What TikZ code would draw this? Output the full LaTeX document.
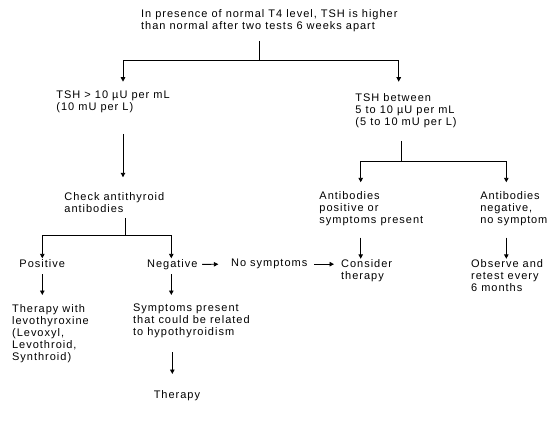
\documentclass[tikz,border=0pt]{standalone}
\usepackage{fontspec}
\setmainfont{Liberation Sans}[LetterSpace=9]
\usetikzlibrary{arrows.meta}

\begin{document}
\begin{tikzpicture}[x=1pt, y=-1pt, line width=0.9pt,
      >={Triangle[length=4.5pt,width=4.5pt]},
      txt/.style={anchor=north west, inner sep=0pt, align=left,
        font=\fontsize{11}{12}\selectfont}]
      \useasboundingbox (0, 0) rectangle (548, 420);
      \node[txt] (top) at (140.7, 8.8) {In presence of normal T4 level, TSH is higher\\than normal after two tests 6 weeks apart};
      \node[txt] (high) at (56, 90.6) {TSH > 10 µU per mL\\(10 mU per L)};
      \node[txt] (mid) at (355, 92.8) {TSH between\\5 to 10 µU per mL\\(5 to 10 mU per L)};
      \node[txt] (check) at (64, 192.1) {Check antithyroid\\antibodies};
      \node[txt] (abpos) at (319, 191.1) {Antibodies\\positive or\\symptoms present};
      \node[txt, font=\fontsize{11}{12}\selectfont\addfontfeatures{LetterSpace=8}] (abneg) at (480, 191.1) {Antibodies\\negative,\\no symptom};
      \node[txt] (pos) at (19, 258.8) {Positive};
      \node[txt] (neg) at (146.7, 258.8) {Negative};
      \node[txt] (nosym) at (230.7, 258.8) {No symptoms};
      \node[txt] (consider) at (340.7, 258.8) {Consider\\therapy};
      \node[txt] (observe) at (470.7, 258.8) {Observe and\\retest every\\6 months};
      \node[txt] (levo) at (11.7, 303.8) {Therapy with\\levothyroxine\\(Levoxyl,\\Levothroid,\\Synthroid)};
      \node[txt] (sympt) at (132.7, 303.8) {Symptoms present\\that could be related\\to hypothyroidism};
      \node[txt] (therapy) at (153.3, 389.8) {Therapy};
      \coordinate (j1) at (259.3, 60);
      \coordinate (j2) at (401.7, 161.7);
      \coordinate (j3) at (125.7, 235.7);
      \draw[shorten <=9pt] ([xshift=118.6pt]top.south west) -- (j1);
      \draw[->, shorten >=8.9pt] (j1) -| ([xshift=67pt]high.north west);
      \draw[->, shorten >=11.1pt] (j1) -| ([xshift=43.7pt]mid.north west);
      \draw[->, shorten <=20.5pt, shorten >=14.8pt] ([xshift=67pt]high.south west) -- ([xshift=59pt]check.north west);
      \draw[shorten <=4.7pt] ([xshift=61.7pt]check.south west) -- (j3);
      \draw[->, shorten >=0.5pt] (j3) -| ([xshift=23.3pt]pos.north west);
      \draw[->, shorten >=0.5pt] (j3) -| ([xshift=24.6pt]neg.north west);
      \draw[->, shorten <=6.6pt, shorten >=8.8pt] ([xshift=23.3pt]pos.south west) -- ([xshift=30.6pt]levo.north west);
      \draw[->, shorten <=4.3pt, shorten >=8.8pt] ([xshift=24.6pt]neg.south west) -- ([xshift=38.6pt]sympt.north west);
      \draw[->, shorten <=13.7pt, shorten >=15.8pt] ([xshift=39.6pt]sympt.south west) -- ([xshift=19pt]therapy.north west);
      \draw[->, shorten <=4.3pt, shorten >=12.4pt] (neg.east) -- (nosym.west);
      \draw[->, shorten <=6.6pt, shorten >=6.7pt] (nosym.east) -- (nosym.east -| consider.west);
      \draw[shorten <=13pt] ([xshift=46.7pt]mid.south west) -- (j2);
      \draw[->, shorten >=8.8pt] (j2) -| ([xshift=41.7pt]abpos.north west);
      \draw[->, shorten >=8.8pt] (j2) -| ([xshift=26.3pt]abneg.north west);
      \draw[->, shorten <=11.4pt] ([xshift=41.7pt]abpos.south west) -- ([xshift=20pt]consider.north west);
      \draw[->, shorten <=11.4pt] ([xshift=26.3pt]abneg.south west) -- ([xshift=35.6pt]observe.north west);
    \end{tikzpicture}
\end{document}
